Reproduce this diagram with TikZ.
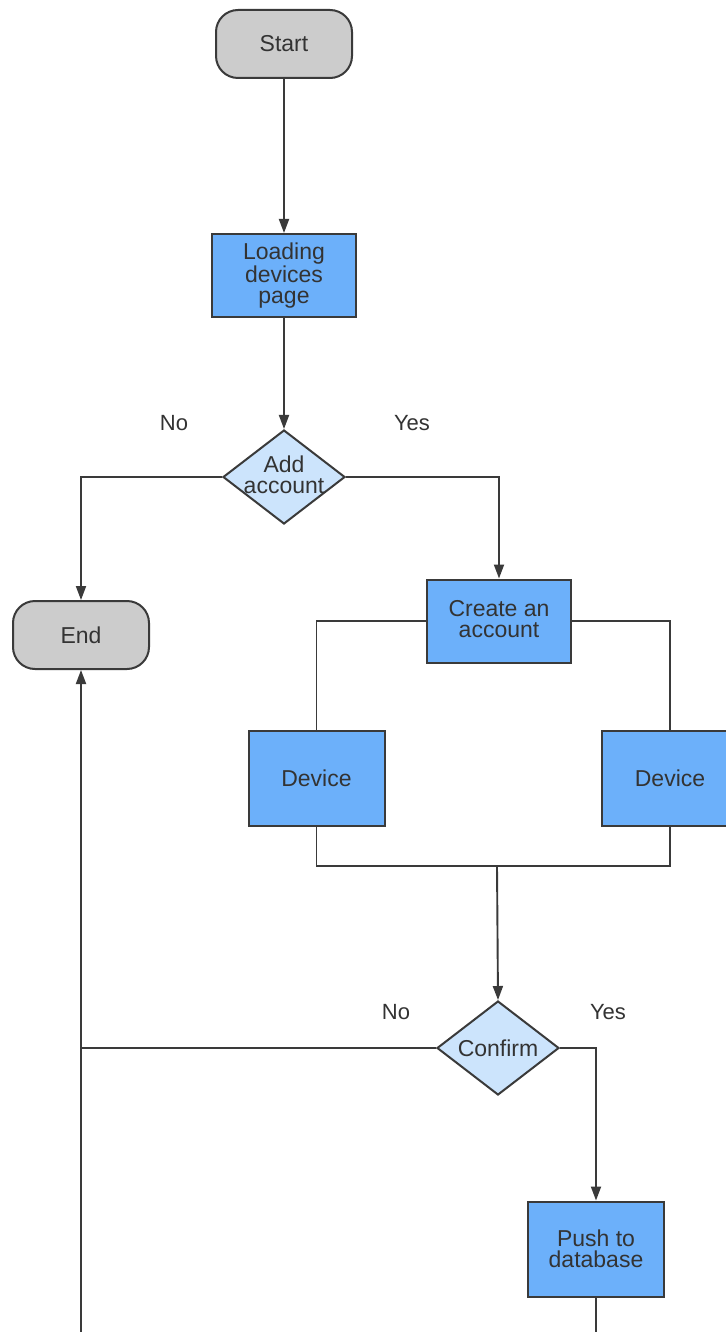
\documentclass[tikz,border=0pt]{standalone}
\usepackage{fontspec}
\setmainfont{Liberation Sans}
\usetikzlibrary{shapes.geometric,arrows.meta}
\definecolor{termfill}{HTML}{CCCCCC}
\definecolor{procfill}{HTML}{6CB0FA}
\definecolor{decfill}{HTML}{CCE4FC}
\definecolor{edgecol}{HTML}{3A3A3A}
\definecolor{txtcol}{HTML}{333333}
\tikzset{
  base/.style={draw=edgecol, line width=2pt, text=txtcol, inner sep=0pt, align=center,
    font=\fontsize{23}{21}\selectfont},
  term/.style={base, fill=termfill, rounded corners=22pt, minimum width=136pt, minimum height=68pt},
  proc/.style={base, fill=procfill, minimum width=144pt, minimum height=83pt},
  devbox/.style={base, fill=procfill, minimum width=136pt, minimum height=95pt},
  dec/.style={base, fill=decfill, diamond, minimum width=122pt, minimum height=94pt},
  txt/.style={text=txtcol, inner sep=0pt, align=center, font=\fontsize{23}{21}\selectfont},
  lbl/.style={text=txtcol, inner sep=0pt, font=\fontsize{22}{22}\selectfont},
  conn/.style={draw=edgecol, line width=1.9pt},
  arr/.style={conn, -{Triangle[width=10pt,length=14pt]}},
}
\begin{document}
\begin{tikzpicture}[x=1pt,y=-1pt]
\useasboundingbox (0,0) rectangle (725,1332);
\fill[white] (0,0) rectangle (725,1332);

\node[term] (start) at (284,44) {Start};
\node[proc] (load) at (284,275.5) {Loading\\devices\\page};
\node[dec] (add) at (284,477) {};
\node[txt] (addt) at (284,475) {Add\\account};
\node[term] (endn) at (81,635) {End};
\node[proc] (create) at (499,621) {};
\node[txt] (createt) at (499,619) {Create an\\account};
\node[devbox] (dev1) at (316.5,778.5) {Device};
\node[devbox] (dev2) at (670,778.5) {Device};
\node[dec] (conf) at (498,1048) {};
\node[txt] (conft) at (498,1048) {Confirm};
\node[devbox] (push) at (596,1249) {};
\node[txt] (pusht) at (596,1249) {Push to\\database};

\node[lbl] (no1) at (174,423) {No};
\node[lbl] (yes1) at (412,423) {Yes};
\node[lbl] (no2) at (396,1012) {No};
\node[lbl] (yes2) at (608,1012) {Yes};

\coordinate (join) at (497,866);
\coordinate (botl) at (81,1332);
\coordinate (botr) at (596,1332);

\draw[arr] (start) -- (load);
\draw[arr] (load) -- (add);
\draw[arr] (add.west) -| (endn.north);
\draw[arr] (add.east) -| (create.north);
\draw[conn] (create.west) -| (dev1.north);
\draw[conn] (create.east) -| (dev2.north);
\draw[conn] (dev1.south) |- (join) -| (dev2.south);
\draw[arr] (join) -- (conf.north);
\draw[arr] (botl) -- (endn.south);
\draw[conn] (conf.west) -- (conf.west -| endn.south);
\draw[arr] (conf.east) -| (push.north);
\draw[conn] (push.south) -- (botr);
\end{tikzpicture}
\end{document}
